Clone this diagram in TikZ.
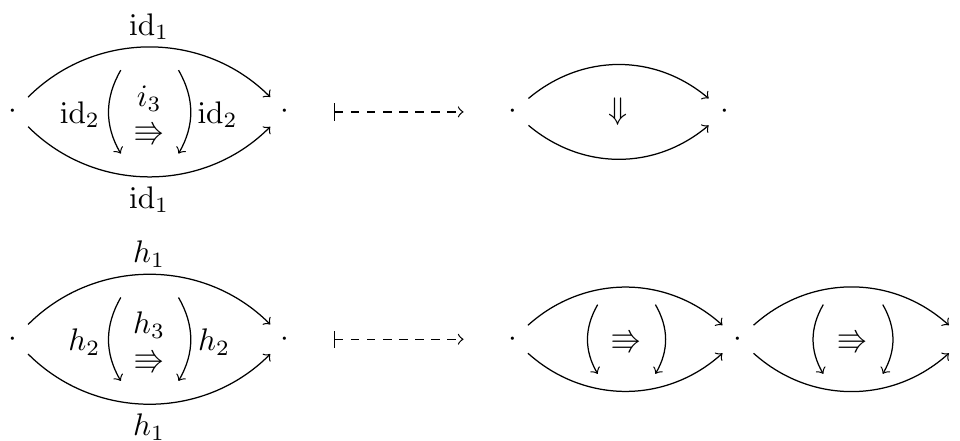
\documentclass[tikz,border=0pt]{standalone}
\usepackage{amsmath,amssymb}
\usepackage{tikz}
\pgfdeclarelayer{edgelayer}
\pgfdeclarelayer{nodelayer}
\pgfsetlayers{edgelayer,nodelayer,main}
\tikzstyle{none}=[inner sep=0pt]
\tikzstyle{object}=[circle,inner sep=0pt,minimum size=13pt]
\tikzstyle{empty}=[rectangle,inner sep=0pt,fill=none,draw=none]
\tikzstyle{onecell}=[->, >=to, line width=0.4]
\tikzstyle{twocell}=[->, >=to, line width=0.4]
\tikzstyle{mapsto}=[|->, >=to, dash pattern=on 2.7pt off 2.45pt, line width=0.4]

\begin{document}
\begin{tikzpicture}
	\useasboundingbox (0,0) rectangle (10.81,4.96);
	\begin{pgfonlayer}{nodelayer}
		% top left
		\node [style=object] (A1) at (0.15, 3.70) {$\cdot$};
		\node [style=object] (B1) at (3.21, 3.70) {$\cdot$};
		\node [style=empty] (lt1) at (1.68, 4.66) {$\mathrm{id}_1$};
		\node [style=empty] (lb1) at (1.68, 2.71) {$\mathrm{id}_1$};
		\node [style=empty] (ll1) at (0.90, 3.67) {$\mathrm{id}_2$};
		\node [style=empty] (lr1) at (2.45, 3.67) {$\mathrm{id}_2$};
		\node [style=empty] (li1) at (1.68, 3.85) {$i_3$};
		\node [style=empty] (tc1) at (1.68, 3.45) {$\Rrightarrow$};
		\node [style=none] (p1) at (1.36, 4.17) {};
		\node [style=none] (p2) at (1.36, 3.23) {};
		\node [style=none] (q1) at (2.01, 4.17) {};
		\node [style=none] (q2) at (2.01, 3.23) {};
		\node [style=none] (m1) at (3.76, 3.70) {};
		\node [style=none] (n1) at (5.22, 3.70) {};
		% top right
		\node [style=object] (C1) at (5.77, 3.70) {$\cdot$};
		\node [style=object] (D1) at (8.16, 3.70) {$\cdot$};
		\node [style=empty] (dn) at (6.96, 3.70) {$\Downarrow$};
		% bottom left
		\node [style=object] (A2) at (0.15, 1.14) {$\cdot$};
		\node [style=object] (B2) at (3.21, 1.14) {$\cdot$};
		\node [style=empty] (lt2) at (1.68, 2.10) {$h_1$};
		\node [style=empty] (lb2) at (1.68, 0.15) {$h_1$};
		\node [style=empty] (ll2) at (0.95, 1.11) {$h_2$};
		\node [style=empty] (lr2) at (2.41, 1.11) {$h_2$};
		\node [style=empty] (li2) at (1.68, 1.30) {$h_3$};
		\node [style=empty] (tc2) at (1.68, 0.89) {$\Rrightarrow$};
		\node [style=none] (p3) at (1.36, 1.61) {};
		\node [style=none] (p4) at (1.36, 0.67) {};
		\node [style=none] (q3) at (2.01, 1.61) {};
		\node [style=none] (q4) at (2.01, 0.67) {};
		\node [style=none] (m2) at (3.76, 1.14) {};
		\node [style=none] (n2) at (5.22, 1.14) {};
		% bottom right
		\node [style=object] (C2) at (5.77, 1.14) {$\cdot$};
		\node [style=object] (D2) at (8.31, 1.14) {$\cdot$};
		\node [style=object] (E2) at (10.86, 1.14) {};
		\node [style=empty] (tc3) at (7.05, 1.11) {$\Rrightarrow$};
		\node [style=empty] (tc4) at (9.60, 1.11) {$\Rrightarrow$};
		\node [style=none] (r1) at (6.73, 1.53) {};
		\node [style=none] (r2) at (6.73, 0.75) {};
		\node [style=none] (s1) at (7.38, 1.53) {};
		\node [style=none] (s2) at (7.38, 0.75) {};
		\node [style=none] (u1) at (9.27, 1.53) {};
		\node [style=none] (u2) at (9.27, 0.75) {};
		\node [style=none] (v1) at (9.94, 1.53) {};
		\node [style=none] (v2) at (9.94, 0.75) {};
	\end{pgfonlayer}
	\begin{pgfonlayer}{edgelayer}
		\draw [style=onecell, bend left=45, looseness=1.00] (A1) to (B1);
		\draw [style=onecell, bend right=45, looseness=1.00] (A1) to (B1);
		\draw [style=twocell, bend right=30, looseness=1.00] (p1.center) to (p2.center);
		\draw [style=twocell, bend left=30, looseness=1.00] (q1.center) to (q2.center);
		\draw [style=mapsto] (m1.center) to (n1.center);
		\draw [style=onecell, bend left=40, looseness=1.00] (C1) to (D1);
		\draw [style=onecell, bend right=40, looseness=1.00] (C1) to (D1);

		\draw [style=onecell, bend left=45, looseness=1.00] (A2) to (B2);
		\draw [style=onecell, bend right=45, looseness=1.00] (A2) to (B2);
		\draw [style=twocell, bend right=30, looseness=1.00] (p3.center) to (p4.center);
		\draw [style=twocell, bend left=30, looseness=1.00] (q3.center) to (q4.center);
		\draw [style=mapsto] (m2.center) to (n2.center);
		\draw [style=onecell, bend left=42, looseness=1.00] (C2) to (D2);
		\draw [style=onecell, bend right=42, looseness=1.00] (C2) to (D2);
		\draw [style=onecell, bend left=42, looseness=1.00] (D2) to (E2);
		\draw [style=onecell, bend right=42, looseness=1.00] (D2) to (E2);
		\draw [style=twocell, bend right=30, looseness=1.00] (r1.center) to (r2.center);
		\draw [style=twocell, bend left=30, looseness=1.00] (s1.center) to (s2.center);
		\draw [style=twocell, bend right=30, looseness=1.00] (u1.center) to (u2.center);
		\draw [style=twocell, bend left=30, looseness=1.00] (v1.center) to (v2.center);
	\end{pgfonlayer}
\end{tikzpicture}
\end{document}
